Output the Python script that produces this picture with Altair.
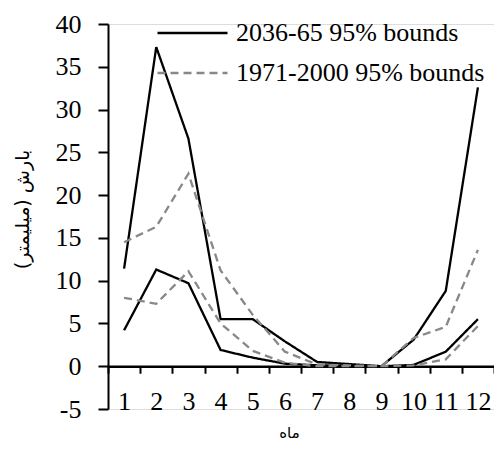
import altair as alt
import pandas as pd

months = list(range(1, 13))
fut_upper = [11.4, 37.3, 26.6, 5.5, 5.5, 2.9, 0.5, 0.25, 0.0, 3.1, 8.8, 32.6]
fut_lower = [4.2, 11.3, 9.7, 1.9, 1.0, 0.3, 0.1, 0.05, 0.0, 0.15, 1.7, 5.5]
base_upper = [14.5, 16.3, 22.5, 11.2, 6.0, 1.7, 0.2, 0.1, 0.0, 3.3, 4.6, 13.6]
base_lower = [8.0, 7.3, 11.1, 5.0, 1.8, 0.4, 0.0, 0.0, 0.0, 0.1, 0.8, 4.7]

fut_label = "2036-65 95% bounds"
base_label = "1971-2000 95% bounds"

rows = []
for period, bound, vals in [
    (fut_label, "upper", fut_upper),
    (fut_label, "lower", fut_lower),
    (base_label, "upper", base_upper),
    (base_label, "lower", base_lower),
]:
    for m, v in zip(months, vals):
        rows.append({"month": m, "value": v, "period": period, "series": period + bound})
df = pd.DataFrame(rows)

H = 385
W = 386
ymin, ymax = -5, 40
zero_offset = -H * (0 - ymin) / (ymax - ymin)

serif = "Liberation Serif"

chart = alt.Chart(df).mark_line(strokeWidth=2.3).encode(
    x=alt.X(
        "month:O",
        bandPosition=0.5,
        scale=alt.Scale(type="band", paddingInner=0, paddingOuter=0),
        axis=alt.Axis(
            title="ماه",
            titleFont="DejaVu Sans",
            titleFontSize=15,
            titleFontWeight="normal",
            titleColor="black",
            titleX=181,
            titleY=66,
            titleBaseline="middle",
            labelAngle=0,
            labelFont=serif,
            labelFontSize=26,
            labelColor="black",
            labelPadding=15,
            tickBand="extent",
            tickSize=7,
            tickWidth=2,
            tickColor="black",
            domainColor="black",
            domainWidth=2.5,
            offset=zero_offset,
            grid=False,
        ),
    ),
    y=alt.Y(
        "value:Q",
        scale=alt.Scale(domain=[ymin, ymax], nice=False, zero=False),
        axis=alt.Axis(
            title="بارش (میلیمتر)",
            titleFont="DejaVu Sans",
            titleFontSize=19,
            titleFontWeight="normal",
            titleColor="black",
            titleAngle=-90,
            titleX=-86,
            titleY=185,
            titleBaseline="middle",
            titleAlign="center",
            values=list(range(-5, 41, 5)),
            labelExpr="'' + datum.value",
            labelFont=serif,
            labelFontSize=26,
            labelColor="black",
            labelPadding=17,
            tickSize=10,
            tickWidth=2,
            tickColor="black",
            domainColor="black",
            domainWidth=2,
            grid=False,
        ),
    ),
    color=alt.Color(
        "period:N",
        scale=alt.Scale(domain=[fut_label, base_label], range=["black", "#888888"]),
        legend=alt.Legend(
            title=None,
            orient="none",
            legendX=48,
            legendY=-4,
            symbolType="stroke",
            symbolSize=4900,
            symbolStrokeWidth=2.3,
            labelFont=serif,
            labelFontSize=26,
            labelColor="black",
            labelOffset=7,
            clipHeight=26,
            rowPadding=14,
            padding=0,
            labelLimit=400,
        ),
    ),
    strokeDash=alt.StrokeDash(
        "period:N",
        scale=alt.Scale(domain=[fut_label, base_label], range=[[1, 0], [8, 5]]),
        legend=alt.Legend(title=None),
    ),
    detail="series:N",
).properties(
    width=W,
    height=H,
    autosize=alt.AutoSizeParams(type="none"),
    padding={"left": 100, "top": 16, "right": 0, "bottom": 33},
).configure_view(stroke=None).configure(background="white")

chart.save("out.html", embed_options={"renderer": "svg", "actions": False})
